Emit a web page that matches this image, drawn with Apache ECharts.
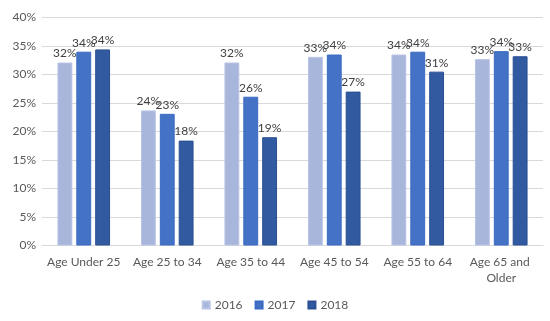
<!DOCTYPE html>
<html><head><meta charset="utf-8">
<script src="https://cdn.jsdelivr.net/npm/echarts@6/dist/echarts.min.js"></script>
<style>html,body{margin:0;padding:0;background:#fff}#c{width:550px;height:321px}</style>
</head><body><div id="c"></div>
<script>
var categories = ['Age Under 25','Age 25 to 34','Age 35 to 44','Age 45 to 54','Age 55 to 64','Age 65 and Older'];
var seriesNames = ['2016','2017','2018'];
var v2016 = [32.1, 23.7, 32.1, 33.1, 33.5, 32.7];
var v2017 = [34.0, 23.1, 26.1, 33.5, 34.0, 34.1];
var v2018 = [34.4, 18.4, 19.0, 27.0, 30.5, 33.2];
var yTicks = [0,5,10,15,20,25,30,35,40];
var colors = ['#A9B6DC','#4472C4','#325AA0'];
var borders = ['#B8C4E4','#3A6BC4','#2A4F92'];
var FONT = 'Lato';
var chart = echarts.init(document.getElementById('c'));
var vals = [v2016, v2017, v2018];
chart.setOption({
  animation:false,
  textStyle:{fontFamily:FONT},
  grid:{left:42,right:7,top:17.5,bottom:75.5},
  legend:{bottom:5,left:'center',itemWidth:7,itemHeight:7,itemGap:12,icon:'rect',
    textStyle:{color:'#595959',fontSize:12,fontFamily:FONT},data:seriesNames},
  xAxis:{type:'category',data:categories,
    axisLine:{lineStyle:{color:'#D9D9D9'}},axisTick:{show:false},
    axisLabel:{color:'#595959',fontSize:12,fontFamily:FONT,interval:0,width:80,overflow:'break',lineHeight:16,margin:9}},
  yAxis:{type:'value',min:yTicks[0],max:yTicks[yTicks.length-1],interval:5,
    axisLabel:{color:'#595959',fontSize:12,fontFamily:FONT,formatter:'{value}%',margin:6},
    splitLine:{lineStyle:{color:'#D9D9D9'}},axisLine:{show:false},axisTick:{show:false}},
  series:seriesNames.map(function(n,i){return {
    name:n,type:'bar',data:vals[i],barGap:'27%',barCategoryGap:'37%',
    itemStyle:{color:colors[i],borderColor:borders[i],borderWidth:1},
    label:{show:true,position:'top',distance:3,color:'#404040',fontSize:12,fontFamily:FONT,
      formatter:function(p){return Math.round(p.value)+'%';}}
  };})
});
</script></body></html>
